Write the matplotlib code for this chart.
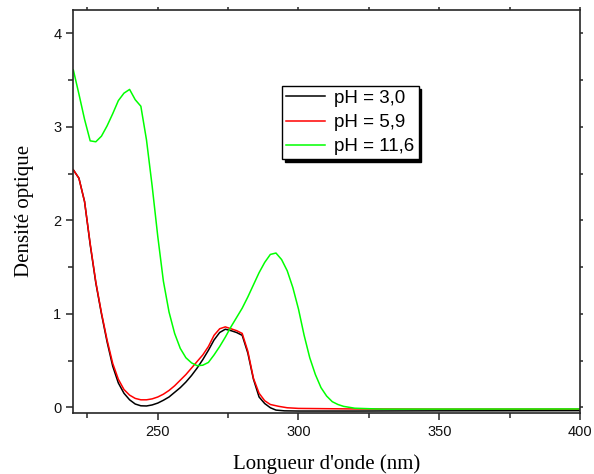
import matplotlib
matplotlib.use("Agg")
import matplotlib.pyplot as plt
from matplotlib.ticker import MultipleLocator

# Absorption spectra (wavelength in nm, optical density)
wl_ph30 = [220, 222, 224, 226, 228, 230, 232, 234, 236, 238, 240, 242, 244, 246,
           248, 250, 252, 254, 256, 258, 260, 262, 264, 266, 268, 270, 272, 274,
           276, 278, 280, 282, 284, 286, 288, 290, 292, 295, 300, 320, 350, 400]
od_ph30 = [2.54, 2.45, 2.20, 1.74, 1.33, 1.00, 0.70, 0.44, 0.26, 0.15, 0.08, 0.035,
           0.016, 0.014, 0.025, 0.045, 0.075, 0.11, 0.16, 0.21, 0.27, 0.34, 0.42,
           0.51, 0.61, 0.72, 0.80, 0.835, 0.82, 0.80, 0.77, 0.58, 0.30, 0.11, 0.04,
           -0.005, -0.03, -0.038, -0.04, -0.04, -0.038, -0.036]

wl_ph59 = [220, 222, 224, 226, 228, 230, 232, 234, 236, 238, 240, 242, 244, 246,
           248, 250, 252, 254, 256, 258, 260, 262, 264, 266, 268, 270, 272, 274,
           276, 278, 280, 282, 284, 286, 288, 290, 293, 296, 300, 320, 350, 400]
od_ph59 = [2.54, 2.45, 2.20, 1.75, 1.34, 1.01, 0.72, 0.47, 0.30, 0.19, 0.13, 0.095,
           0.08, 0.08, 0.09, 0.11, 0.14, 0.18, 0.23, 0.29, 0.35, 0.42, 0.49, 0.56,
           0.65, 0.77, 0.84, 0.86, 0.84, 0.82, 0.79, 0.60, 0.31, 0.15, 0.07, 0.03,
           0.01, -0.005, -0.012, -0.018, -0.02, -0.02]

wl_ph116 = [220, 222, 224, 226, 228, 230, 232, 234, 236, 238, 240, 242, 244, 246,
            248, 250, 252, 254, 256, 258, 260, 262, 264, 266, 268, 270, 272, 274,
            276, 278, 280, 282, 284, 286, 288, 290, 292, 294, 296, 298, 300, 302,
            304, 306, 308, 310, 312, 314, 316, 318, 320, 330, 400]
od_ph116 = [3.61, 3.35, 3.08, 2.85, 2.84, 2.90, 3.01, 3.14, 3.28, 3.36, 3.40, 3.29,
            3.22, 2.86, 2.37, 1.83, 1.35, 1.02, 0.79, 0.63, 0.53, 0.475, 0.445, 0.45,
            0.48, 0.56, 0.65, 0.75, 0.86, 0.96, 1.06, 1.18, 1.31, 1.44, 1.55, 1.635,
            1.65, 1.58, 1.46, 1.28, 1.05, 0.77, 0.53, 0.35, 0.21, 0.12, 0.06, 0.03,
            0.01, 0.0, -0.01, -0.02, -0.018]

labels = ["pH = 3,0", "pH = 5,9", "pH = 11,6"]
colors = ["#000000", "#ff0000", "#00ff00"]

x_ticks = [250, 300, 350, 400]
y_ticks = [0, 1, 2, 3, 4]

sans = ["Liberation Sans", "DejaVu Sans"]
serif = ["Liberation Serif", "DejaVu Serif"]
spine_color = "#262626"

fig = plt.figure(figsize=(5.94, 4.74), dpi=100)
ax = fig.add_axes([0.1234, 0.1293, 0.8530, 0.8497])

for wl, od, lab, col in zip([wl_ph30, wl_ph59, wl_ph116],
                            [od_ph30, od_ph59, od_ph116], labels, colors):
    ax.plot(wl, od, color=col, lw=1.1, label=lab)

ax.set_xlim(220, 400)
ax.set_ylim(-0.058, 4.25)
ax.set_xticks(x_ticks)
ax.set_yticks(y_ticks)
ax.xaxis.set_minor_locator(MultipleLocator(25))
ax.yaxis.set_minor_locator(MultipleLocator(0.5))

for s in ax.spines.values():
    s.set_linewidth(1.2)
    s.set_color(spine_color)

ax.tick_params(which="major", direction="out", length=5, width=1.1,
               color=spine_color, pad=3.5, labelsize=10.5)
ax.tick_params(which="minor", direction="out", length=3.5, width=1.1,
               color=spine_color)
for t in ax.get_xticklabels() + ax.get_yticklabels():
    t.set_family(sans)
    t.set_color("#111111")

# short outward ticks on the top and right frame
top = ax.secondary_xaxis("top")
top.set_xticks(x_ticks)
top.xaxis.set_minor_locator(MultipleLocator(25))
top.tick_params(which="both", direction="out", length=2, width=1.1,
                color=spine_color, labeltop=False)
top.spines["top"].set_visible(False)
right = ax.secondary_yaxis("right")
right.set_yticks(y_ticks)
right.yaxis.set_minor_locator(MultipleLocator(0.5))
right.tick_params(which="both", direction="out", length=2, width=1.1,
                  color=spine_color, labelright=False)
right.spines["right"].set_visible(False)

ax.set_xlabel("Longueur d'onde (nm)", family=serif, fontsize=15, labelpad=11)
ax.set_ylabel("Densité optique", family=serif, fontsize=15, labelpad=14)

leg = ax.legend(loc="upper left", bbox_to_anchor=(282 / 594, 1 - 86 / 474),
                bbox_transform=fig.transFigure, borderaxespad=0,
                prop={"family": sans, "size": 13.5},
                frameon=True, fancybox=False, framealpha=1,
                edgecolor="black", handlelength=2.1, handletextpad=0.5,
                labelspacing=0.38, borderpad=0.2,
                shadow={"color": "black", "alpha": 1})
leg.get_frame().set_linewidth(1.0)

fig.savefig("out.png", dpi=100)
